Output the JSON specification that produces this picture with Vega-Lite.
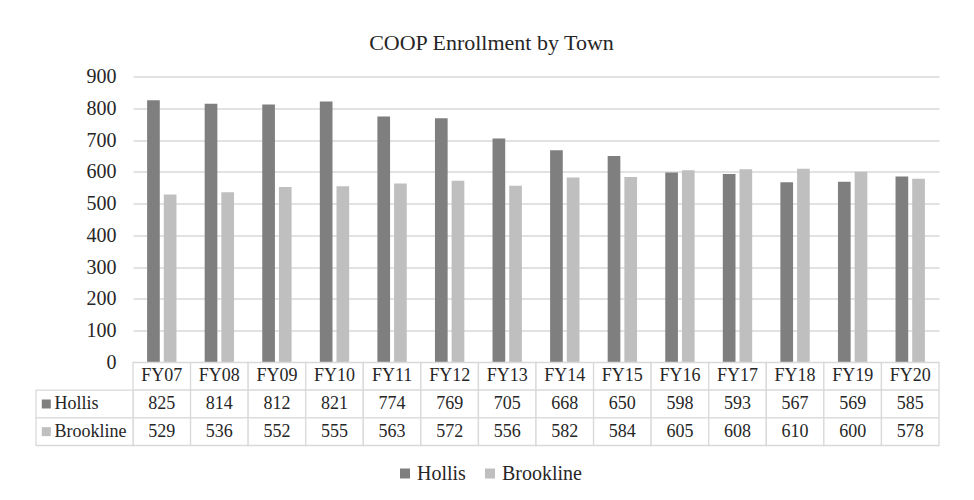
{
  "$schema": "https://vega.github.io/schema/vega-lite/v6.json",
  "padding": {"left": 35, "top": 31.5, "right": 5, "bottom": 5},
  "title": {"text": "COOP Enrollment by Town", "font": "Liberation Serif", "fontSize": 22, "fontWeight": "normal", "color": "#262626", "offset": 12, "anchor": "middle", "dx": 4},
  "datasets": {
    "rows": [
      {"fy": "FY07", "town": "Hollis", "value": 825}, {"fy": "FY07", "town": "Brookline", "value": 529},
      {"fy": "FY08", "town": "Hollis", "value": 814}, {"fy": "FY08", "town": "Brookline", "value": 536},
      {"fy": "FY09", "town": "Hollis", "value": 812}, {"fy": "FY09", "town": "Brookline", "value": 552},
      {"fy": "FY10", "town": "Hollis", "value": 821}, {"fy": "FY10", "town": "Brookline", "value": 555},
      {"fy": "FY11", "town": "Hollis", "value": 774}, {"fy": "FY11", "town": "Brookline", "value": 563},
      {"fy": "FY12", "town": "Hollis", "value": 769}, {"fy": "FY12", "town": "Brookline", "value": 572},
      {"fy": "FY13", "town": "Hollis", "value": 705}, {"fy": "FY13", "town": "Brookline", "value": 556},
      {"fy": "FY14", "town": "Hollis", "value": 668}, {"fy": "FY14", "town": "Brookline", "value": 582},
      {"fy": "FY15", "town": "Hollis", "value": 650}, {"fy": "FY15", "town": "Brookline", "value": 584},
      {"fy": "FY16", "town": "Hollis", "value": 598}, {"fy": "FY16", "town": "Brookline", "value": 605},
      {"fy": "FY17", "town": "Hollis", "value": 593}, {"fy": "FY17", "town": "Brookline", "value": 608},
      {"fy": "FY18", "town": "Hollis", "value": 567}, {"fy": "FY18", "town": "Brookline", "value": 610},
      {"fy": "FY19", "town": "Hollis", "value": 569}, {"fy": "FY19", "town": "Brookline", "value": 600},
      {"fy": "FY20", "town": "Hollis", "value": 585}, {"fy": "FY20", "town": "Brookline", "value": 578}
    ]
  },
  "vconcat": [
    {
      "width": 806,
      "height": 286,
      "data": {"name": "rows"},
      "mark": {"type": "bar"},
      "encoding": {
        "x": {"field": "fy", "type": "nominal", "axis": null,
              "scale": {"domain": ["FY07","FY08","FY09","FY10","FY11","FY12","FY13","FY14","FY15","FY16","FY17","FY18","FY19","FY20"], "paddingInner": 0.49, "paddingOuter": 0.245}},
        "xOffset": {"field": "town", "type": "nominal", "scale": {"domain": ["Hollis", "Brookline"], "paddingInner": 0.24, "paddingOuter": 0}},
        "y": {"field": "value", "type": "quantitative", "scale": {"domain": [0, 900], "nice": false},
              "axis": {"values": [0,100,200,300,400,500,600,700,800,900], "title": null, "domain": false, "ticks": false,
                       "grid": true, "gridColor": "#d9d9d9", "gridWidth": 1.3,
                       "labelFont": "Liberation Serif", "labelFontSize": 20, "labelColor": "#262626", "labelPadding": 17}},
        "color": {"field": "town", "type": "nominal", "legend": null,
                  "scale": {"domain": ["Hollis", "Brookline"], "range": ["#7f7f7f", "#bfbfbf"]}}
      }
    },
    {
      "width": 806,
      "height": 83,
      "data": {"name": "rows"},
      "resolve": {"scale": {"x": "independent"}},
      "layer": [
        {
          "transform": [{"filter": "datum.town == 'Hollis'"}],
          "mark": {"type": "rect", "fill": "#ffffff", "stroke": "#d9d9d9", "strokeWidth": 1.3},
          "encoding": {
            "x": {"field": "fy", "type": "nominal",
                  "scale": {"domain": ["FY07","FY08","FY09","FY10","FY11","FY12","FY13","FY14","FY15","FY16","FY17","FY18","FY19","FY20"], "paddingInner": 0, "paddingOuter": 0},
                  "axis": null},
            "y": {"datum": "FY", "type": "nominal",
                  "scale": {"domain": ["FY", "Hollis", "Brookline"], "paddingInner": 0, "paddingOuter": 0},
                  "axis": null}
          }
        },
        {
          "mark": {"type": "rect", "fill": "#ffffff", "stroke": "#d9d9d9", "strokeWidth": 1.3},
          "encoding": {
            "x": {"field": "fy", "type": "nominal",
                  "scale": {"domain": ["FY07","FY08","FY09","FY10","FY11","FY12","FY13","FY14","FY15","FY16","FY17","FY18","FY19","FY20"], "paddingInner": 0, "paddingOuter": 0},
                  "axis": null},
            "y": {"field": "town", "type": "nominal"}
          }
        },
        {
          "transform": [{"filter": "datum.town == 'Hollis'"}],
          "mark": {"type": "text", "font": "Liberation Serif", "fontSize": 18, "color": "#262626"},
          "encoding": {
            "x": {"field": "fy", "type": "nominal",
                  "scale": {"domain": ["FY07","FY08","FY09","FY10","FY11","FY12","FY13","FY14","FY15","FY16","FY17","FY18","FY19","FY20"], "paddingInner": 0, "paddingOuter": 0},
                  "axis": null},
            "y": {"datum": "FY", "type": "nominal"},
            "text": {"field": "fy"}
          }
        },
        {
          "mark": {"type": "text", "font": "Liberation Serif", "fontSize": 18, "color": "#262626"},
          "encoding": {
            "x": {"field": "fy", "type": "nominal",
                  "scale": {"domain": ["FY07","FY08","FY09","FY10","FY11","FY12","FY13","FY14","FY15","FY16","FY17","FY18","FY19","FY20"], "paddingInner": 0, "paddingOuter": 0},
                  "axis": null},
            "y": {"field": "town", "type": "nominal"},
            "text": {"field": "value", "type": "quantitative"}
          }
        },
        {
          "transform": [{"filter": "datum.fy == 'FY07'"}],
          "mark": {"type": "rect", "fill": "#ffffff", "stroke": "#d9d9d9", "strokeWidth": 1.3},
          "encoding": {
            "x": {"datum": "H", "type": "nominal",
                  "scale": {"type": "band", "domain": ["H"], "range": [-97, 0], "paddingInner": 0, "paddingOuter": 0},
                  "axis": null},
            "y": {"field": "town", "type": "nominal"}
          }
        },
        {
          "transform": [{"filter": "datum.fy == 'FY07'"}],
          "mark": {"type": "point", "shape": "square", "filled": true, "size": 81, "opacity": 1, "strokeWidth": 0},
          "encoding": {
            "x": {"datum": "H", "type": "nominal", "bandPosition": 0.106,
                  "scale": {"type": "band", "domain": ["H"], "range": [-97, 0], "paddingInner": 0, "paddingOuter": 0},
                  "axis": null},
            "y": {"field": "town", "type": "nominal"},
            "color": {"field": "town", "type": "nominal",
                      "scale": {"domain": ["Hollis", "Brookline"], "range": ["#7f7f7f", "#bfbfbf"]},
                      "legend": {"orient": "none", "legendX": 262, "legendY": 101, "direction": "horizontal", "title": null,
                                 "symbolType": "square", "symbolSize": 100, "symbolStrokeWidth": 0, "symbolOpacity": 1,
                                 "labelFont": "Liberation Serif", "labelFontSize": 20, "labelColor": "#262626",
                                 "labelOffset": 2, "columnPadding": 14}}
          }
        },
        {
          "transform": [{"filter": "datum.fy == 'FY07'"}],
          "mark": {"type": "text", "font": "Liberation Serif", "fontSize": 18, "color": "#262626", "align": "left"},
          "encoding": {
            "x": {"datum": "H", "type": "nominal", "bandPosition": 0.19,
                  "scale": {"type": "band", "domain": ["H"], "range": [-97, 0], "paddingInner": 0, "paddingOuter": 0},
                  "axis": null},
            "y": {"field": "town", "type": "nominal"},
            "text": {"field": "town"}
          }
        }
      ]
    }
  ],
  "spacing": 0,
  "bounds": "flush",
  "resolve": {"scale": {"x": "independent", "y": "independent", "color": "independent"}},
  "config": {"view": {"stroke": null}, "font": "Liberation Serif"}
}
